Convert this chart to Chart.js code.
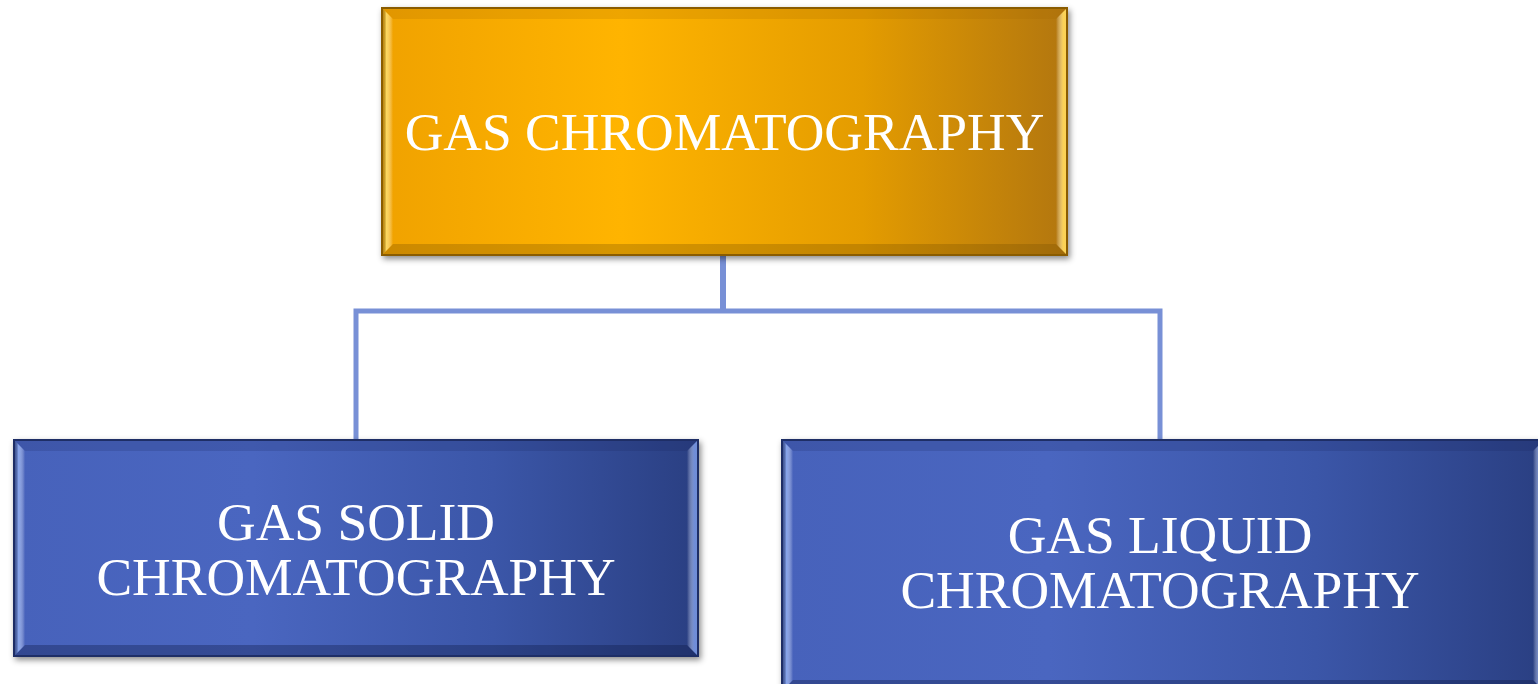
<!DOCTYPE html>
<html>
<head>
  <title>Gas chromatography</title>
  <script src="https://cdn.jsdelivr.net/npm/chart.js@4"></script>
  <style>
    html, body { margin: 0; padding: 0; background: #ffffff; }
    #chartCanvas { display: block; }
  </style>
</head>
<body>
  <canvas id="chartCanvas" width="1538" height="684"></canvas>

  <script>
    // node texts and their boxes (in chart units, y grows downwards)
    const nodeLabels = [
      ['GAS CHROMATOGRAPHY'],
      ['GAS SOLID', 'CHROMATOGRAPHY'],
      ['GAS LIQUID', 'CHROMATOGRAPHY']
    ];
    const boxLeft   = [381, 13, 781];
    const boxRight  = [1068, 699, 1545];
    const boxTop    = [7, 439, 439];
    const boxBottom = [256, 657, 692];
    const boxTheme  = ['gold', 'blue', 'blue'];

    // connector lines
    const trunkX = [723, 723];
    const trunkY = [256, 311];
    const barX = [356, 356, 1160, 1160];
    const barY = [439, 311, 311, 439];

    const toPoints = (xs, ys) => xs.map((x, i) => ({ x: x, y: ys[i] }));

    const themes = {
      gold: {
        fill: ['#f0a200', '#ffb400', '#e49c00', '#b2760f'],
        edge: '#8a5c00',
        left: 'rgba(255,225,110,0.85)',
        right: 'rgba(255,215,90,0.95)',
        top: 'rgba(160,100,0,0.18)',
        bottom: 'rgba(120,80,0,0.3)'
      },
      blue: {
        fill: ['#4762bb', '#4a66c0', '#3b56a8', '#2a3f82'],
        edge: '#1e2e66',
        left: 'rgba(140,170,240,0.9)',
        right: 'rgba(120,150,225,0.9)',
        top: 'rgba(20,35,90,0.18)',
        bottom: 'rgba(15,25,70,0.35)'
      }
    };

    const boxPlugin = {
      id: 'boxes',
      afterDatasetsDraw(chart) {
        const ctx = chart.ctx;
        const xs = chart.scales.x;
        const ys = chart.scales.y;

        for (let i = 0; i < nodeLabels.length; i++) {
          const x0 = xs.getPixelForValue(boxLeft[i]);
          const x1 = xs.getPixelForValue(boxRight[i]);
          const y0 = ys.getPixelForValue(boxTop[i]);
          const y1 = ys.getPixelForValue(boxBottom[i]);
          const w = x1 - x0;
          const h = y1 - y0;
          const t = themes[boxTheme[i]];
          const b = 12;

          ctx.save();
          ctx.shadowColor = 'rgba(0,0,0,0.45)';
          ctx.shadowBlur = 6;
          ctx.shadowOffsetX = 2;
          ctx.shadowOffsetY = 3;
          const g = ctx.createLinearGradient(x0, 0, x1, 0);
          g.addColorStop(0, t.fill[0]);
          g.addColorStop(0.35, t.fill[1]);
          g.addColorStop(0.7, t.fill[2]);
          g.addColorStop(1, t.fill[3]);
          ctx.fillStyle = g;
          ctx.fillRect(x0, y0, w, h);
          ctx.restore();

          // bevel
          ctx.save();
          ctx.fillStyle = t.top;
          ctx.beginPath();
          ctx.moveTo(x0, y0); ctx.lineTo(x1, y0); ctx.lineTo(x1 - b, y0 + b); ctx.lineTo(x0 + b, y0 + b);
          ctx.closePath(); ctx.fill();

          ctx.fillStyle = t.bottom;
          ctx.beginPath();
          ctx.moveTo(x0, y1); ctx.lineTo(x1, y1); ctx.lineTo(x1 - b, y1 - b); ctx.lineTo(x0 + b, y1 - b);
          ctx.closePath(); ctx.fill();

          const gl = ctx.createLinearGradient(x0, 0, x0 + b, 0);
          gl.addColorStop(0, 'rgba(0,0,0,0)');
          gl.addColorStop(0.45, t.left);
          gl.addColorStop(1, 'rgba(255,255,255,0)');
          ctx.fillStyle = gl;
          ctx.beginPath();
          ctx.moveTo(x0, y0); ctx.lineTo(x0 + b, y0 + b); ctx.lineTo(x0 + b, y1 - b); ctx.lineTo(x0, y1);
          ctx.closePath(); ctx.fill();

          const gr = ctx.createLinearGradient(x1 - b, 0, x1, 0);
          gr.addColorStop(0, 'rgba(255,255,255,0)');
          gr.addColorStop(0.6, t.right);
          gr.addColorStop(1, t.right);
          ctx.fillStyle = gr;
          ctx.beginPath();
          ctx.moveTo(x1, y0); ctx.lineTo(x1 - b, y0 + b); ctx.lineTo(x1 - b, y1 - b); ctx.lineTo(x1, y1);
          ctx.closePath(); ctx.fill();

          ctx.strokeStyle = t.edge;
          ctx.lineWidth = 2;
          ctx.strokeRect(x0 + 1, y0 + 1, w - 2, h - 2);
          ctx.restore();
        }

        // labels
        ctx.save();
        ctx.fillStyle = '#ffffff';
        ctx.font = '53.5px "Liberation Serif", "Times New Roman", serif';
        ctx.textAlign = 'center';
        ctx.textBaseline = 'alphabetic';
        const lineGap = 55;
        const baselines = [150, 540, 553];
        for (let i = 0; i < nodeLabels.length; i++) {
          const cx = xs.getPixelForValue(i === 2 ? 1160 : (boxLeft[i] + boxRight[i]) / 2);
          nodeLabels[i].forEach((line, k) => {
            ctx.fillText(line, cx, ys.getPixelForValue(baselines[i] + k * lineGap));
          });
        }
        ctx.restore();
      }
    };

    const ctx = document.getElementById('chartCanvas').getContext('2d');

    new Chart(ctx, {
      type: 'scatter',
      data: {
        datasets: [
          {
            data: toPoints(trunkX, trunkY),
            showLine: true,
            borderColor: '#7890d6',
            borderWidth: 6,
            pointRadius: 0
          },
          {
            data: toPoints(barX, barY),
            showLine: true,
            borderColor: '#7890d6',
            borderWidth: 5,
            borderJoinStyle: 'miter',
            pointRadius: 0
          }
        ]
      },
      options: {
        responsive: false,
        animation: false,
        layout: { padding: 0 },
        plugins: {
          legend: { display: false },
          tooltip: { enabled: false }
        },
        scales: {
          x: { type: 'linear', min: 0, max: 1538, display: false },
          y: { type: 'linear', min: 0, max: 684, reverse: true, display: false }
        }
      },
      plugins: [boxPlugin]
    });
  </script>
</body>
</html>
